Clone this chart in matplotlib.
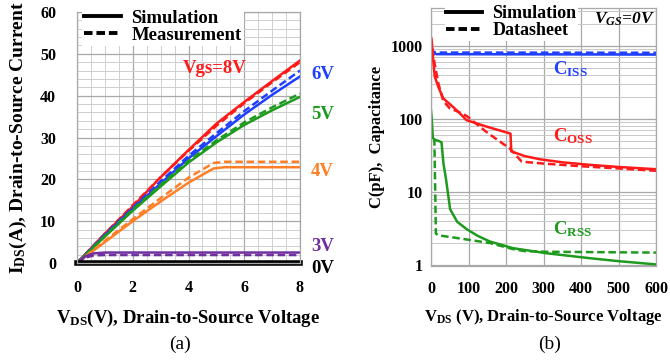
import matplotlib
matplotlib.use("Agg")
import matplotlib.pyplot as plt
from matplotlib.ticker import MultipleLocator, FixedLocator, NullFormatter
import numpy as np

plt.rcParams['font.family'] = ['Liberation Serif']
plt.rcParams['font.weight'] = 'bold'
plt.rcParams['axes.labelweight'] = 'bold'
plt.rcParams['mathtext.fontset'] = 'custom'
plt.rcParams['mathtext.rm'] = 'Liberation Serif:bold'
plt.rcParams['mathtext.bf'] = 'Liberation Serif:bold'
plt.rcParams['mathtext.it'] = 'Liberation Serif:bold:italic'

# ---------- panel (a) data ----------
vds_a = [0, 1, 2, 3, 4, 5, 6, 7, 8]
i8_sim = [0, 7, 13.5, 20.5, 27, 33.3, 38.5, 43.5, 48.4]
i8_meas = [0, 7, 13.8, 20.5, 26.8, 32.8, 38.2, 43.2, 48.0]
i6_sim = [0, 6.6, 13, 19, 25, 30.3, 35.5, 40.2, 44.6]
i6_meas = [0, 6.8, 13.2, 19.5, 25.6, 31.0, 36.3, 41.2, 46.0]
i5_sim = [0, 6.3, 12.5, 18.3, 24, 28.8, 33, 36.5, 39.7]
i5_meas = [0, 6.5, 12.8, 18.7, 24.4, 29.3, 33.6, 37.2, 40.5]
vds_4 = [0, 1, 2, 3, 4, 4.9, 5.3, 8]
i4_sim = [0, 5, 10, 14.7, 19.2, 22.6, 22.9, 22.9]
i4_meas = [0, 5.3, 10.5, 15.5, 20.4, 23.9, 24.2, 24.2]
vds_3 = [0, 0.3, 0.6, 1, 8]
i3_sim = [0, 1.6, 2.3, 2.5, 2.5]
i3_meas = [0, 1.3, 1.8, 1.9, 1.9]
i0_sim = [0, 0, 0, 0, 0, 0, 0, 0, 0]

# ---------- panel (b) data ----------
v_ciss = [0, 3, 8, 15, 600]
ciss_sim = [1000, 900, 790, 770, 760]
ciss_ds = [950, 880, 820, 810, 805]
v_coss_sim = [0, 2, 5, 10, 20, 33, 50, 73, 95, 150, 212, 214, 250, 291, 350, 424, 500, 600]
coss_sim = [1300, 1150, 700, 380, 270, 190, 160, 125, 96, 78, 63, 36, 31, 28, 25.5, 23.5, 22, 20.5]
v_coss_ds = [0, 2, 5, 10, 20, 33, 50, 73, 95, 150, 211, 242, 300, 400, 500, 600]
coss_ds = [1300, 1100, 800, 560, 300, 175, 140, 125, 110, 65, 39, 26, 24.5, 22.5, 21, 19.5]
v_crss_sim = [0, 2, 5, 10, 20, 28, 33, 40, 51, 70, 95, 125, 157, 219, 308, 424, 500, 600]
crss_sim = [130, 100, 55, 52, 50, 48, 25, 15, 5.8, 3.9, 3.1, 2.5, 2.1, 1.7, 1.45, 1.24, 1.13, 1.02]
v_crss_ds = [5, 9, 13, 20, 80, 157, 219, 250, 308, 450, 600]
crss_ds = [52, 52, 2.7, 2.55, 2.3, 2.0, 1.65, 1.55, 1.52, 1.5, 1.48]

fig = plt.figure(figsize=(6.7, 3.61), dpi=100)
W, H = 670, 361

def ax_px(l, t, r, b):
    return fig.add_axes([l / W, 1 - b / H, (r - l) / W, (b - t) / H])

DASH = (3, 1.5)
LEG_FS = 13.5

def style_axes(a):
    a.set_axisbelow(True)
    for s in a.spines.values():
        s.set_color('#a8a8a8')
        s.set_linewidth(0.9)

# ======== panel (a) ========
ax = ax_px(77, 12, 300, 263)
ax.set_xlim(0, 8)
ax.set_ylim(0, 60)
ax.xaxis.set_major_locator(MultipleLocator(2))
ax.xaxis.set_minor_locator(MultipleLocator(0.5))
ax.yaxis.set_major_locator(MultipleLocator(10))
ax.yaxis.set_minor_locator(MultipleLocator(2))
ax.grid(which='major', color='#a8a8a8', lw=0.9)
ax.grid(which='minor', color='#cfcfcf', lw=0.7)
ax.tick_params(which='both', length=0, labelsize=11.5)
ax.tick_params(axis='y', pad=15)
ax.tick_params(axis='x', pad=12)
style_axes(ax)

ax.plot(vds_a, i8_sim, color='#ff1a1a', lw=1.8)
ax.plot(vds_a, i8_meas, color='#ff1a1a', lw=1.8, ls='--', dashes=DASH)
ax.plot(vds_a, i6_sim, color='#1f3fff', lw=1.8)
ax.plot(vds_a, i6_meas, color='#1f3fff', lw=1.8, ls='--', dashes=DASH)
ax.plot(vds_a, i5_sim, color='#1e9a1e', lw=1.8)
ax.plot(vds_a, i5_meas, color='#1e9a1e', lw=1.8, ls='--', dashes=DASH)
ax.plot(vds_4, i4_sim, color='#ff7f27', lw=1.8)
ax.plot(vds_4, i4_meas, color='#ff7f27', lw=1.8, ls='--', dashes=DASH)
ax.plot(vds_3, i3_sim, color='#7030a0', lw=1.8)
ax.plot(vds_3, i3_meas, color='#7030a0', lw=1.8, ls='--', dashes=DASH)
ax.plot(vds_a, i0_sim, color='black', lw=4, clip_on=False)

ax.legend(handles=[plt.Line2D([], [], color='black', lw=2.8),
                   plt.Line2D([], [], color='black', lw=2.8, ls='--', dashes=(2.2, 1.0))],
          labels=['Simulation', 'Measurement'],
          loc='upper left', bbox_to_anchor=(0.0, 1.035), frameon=True, fancybox=False,
          edgecolor='none', framealpha=1, fontsize=LEG_FS, handlelength=2.0,
          handletextpad=0.55, borderpad=0.1, labelspacing=0.0, borderaxespad=0.25)

ax.text(3.8, 45.3, 'Vgs=8V', color='#ff1a1a', fontsize=13.5, fontweight='bold')
lab_kw = dict(fontsize=13.5, fontweight='bold', va='center', clip_on=False)
ax.text(8.4, 45.0, '6V', color='#1f3fff', **lab_kw)
ax.text(8.4, 35.5, '5V', color='#1e9a1e', **lab_kw)
ax.text(8.4, 21.8, '4V', color='#ff7f27', **lab_kw)
ax.text(8.4, 3.9, '3V', color='#7030a0', **lab_kw)
ax.text(8.4, -1.2, '0V', color='black', **lab_kw)

ax.set_xlabel(r'$\mathrm{V_{DS}}$(V), Drain-to-Source Voltage', fontsize=13.5, labelpad=9)
ax.set_ylabel(r'$\mathrm{I_{DS}}$(A), Drain-to-Source Current', fontsize=14, labelpad=8)
fig.text(180 / W, 1 - 344 / H, '(a)', ha='center', va='center', fontsize=14, fontweight='normal')

# ======== panel (b) ========
bx = ax_px(431, 8, 656, 266)
bx.set_yscale('log')
bx.set_xlim(0, 600)
bx.set_ylim(0.97, 3300)
bx.xaxis.set_major_locator(MultipleLocator(100))
bx.yaxis.set_major_locator(FixedLocator([1, 10, 100, 1000]))
bx.yaxis.set_major_formatter(matplotlib.ticker.FixedFormatter(['1', '10', '100', '1000']))
bx.yaxis.set_minor_locator(matplotlib.ticker.LogLocator(base=10, subs=np.arange(2, 10)))
bx.yaxis.set_minor_formatter(NullFormatter())
bx.grid(which='major', color='#a8a8a8', lw=0.9)
bx.grid(which='minor', axis='y', color='#c8c8c8', lw=0.7)
bx.tick_params(which='both', length=0, labelsize=11.5)
bx.tick_params(axis='y', pad=6)
bx.tick_params(axis='x', pad=11)
style_axes(bx)

bx.plot(v_ciss, ciss_sim, color='#1f3fff', lw=1.8)
bx.plot(v_ciss, ciss_ds, color='#1f3fff', lw=1.8, ls='--', dashes=DASH)
bx.plot(v_coss_sim, coss_sim, color='#ff1a1a', lw=1.8)
bx.plot(v_coss_ds, coss_ds, color='#ff1a1a', lw=1.8, ls='--', dashes=DASH)
bx.plot(v_crss_sim, crss_sim, color='#1e9a1e', lw=1.8)
bx.plot(v_crss_ds, crss_ds, color='#1e9a1e', lw=1.8, ls='--', dashes=DASH)

bx.legend(handles=[plt.Line2D([], [], color='black', lw=2.8),
                   plt.Line2D([], [], color='black', lw=2.8, ls='--', dashes=(2.2, 1.0))],
          labels=['Simulation', 'Datasheet'],
          loc='upper left', bbox_to_anchor=(0.04, 1.035), frameon=True, fancybox=False,
          edgecolor='none', framealpha=1, fontsize=13, handlelength=2.0,
          handletextpad=0.55, borderpad=0.1, labelspacing=0.0, borderaxespad=0.25)

bx.text(0.995, 0.99, r'$\mathit{V_{GS}}$=0V', transform=bx.transAxes, ha='right', va='top',
        fontsize=12.5, fontstyle='italic', fontweight='bold')
bx.text(325, 480, r'$\mathrm{C_{ISS}}$', color='#1f3fff', fontsize=13.5, va='center')
bx.text(325, 58, r'$\mathrm{C_{OSS}}$', color='#ff1a1a', fontsize=13.5, va='center')
bx.text(325, 3.1, r'$\mathrm{C_{RSS}}$', color='#1e9a1e', fontsize=13.5, va='center')

bx.set_xlabel(r'$\mathrm{V_{DS}}$ (V), Drain-to-Source Voltage', fontsize=12, labelpad=7)
bx.set_ylabel('C(pF),  Capacitance', fontsize=12, labelpad=4)
fig.text(550 / W, 1 - 344 / H, '(b)', ha='center', va='center', fontsize=14, fontweight='normal')

fig.savefig('out.png', dpi=100)
